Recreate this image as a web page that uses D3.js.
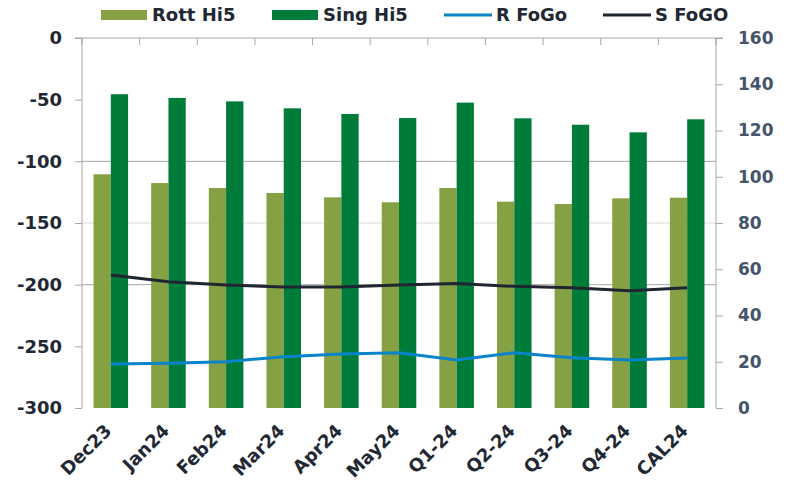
<!DOCTYPE html>
<html>
<head>
<meta charset="utf-8">
<script src="https://cdn.jsdelivr.net/npm/d3@7"></script>
<style>
  body { margin: 0; background: #fff; }
  svg text { font-family: "DejaVu Sans", Verdana, sans-serif; font-weight: bold; }
</style>
</head>
<body>
<svg id="chart"></svg>
<script>
var categories = ["Dec23", "Jan24", "Feb24", "Mar24", "Apr24", "May24", "Q1-24", "Q2-24", "Q3-24", "Q4-24", "CAL24"];
var rottHi5 = [-110.5, -117.6, -121.6, -125.7, -129.2, -133.2, -121.6, -132.7, -134.6, -130, -129.5];
var singHi5 = [-45.6, -48.6, -51.4, -57, -61.6, -64.9, -52.4, -65.1, -70.3, -76.5, -65.9];
var rFoGo = [19, 19.3, 20, 22.2, 23.4, 23.9, 20.8, 23.9, 21.7, 20.8, 21.6];
var sFoGO = [57.5, 54.6, 53.2, 52.3, 52.3, 53.2, 53.8, 52.6, 52, 50.7, 52];
var leftTicks = [0, -50, -100, -150, -200, -250, -300];
var rightTicks = [0, 20, 40, 60, 80, 100, 120, 140, 160];
var gridTicks = [-100, -150, -200];

var width = 786, height = 484;
var margin = { top: 38, right: 70, bottom: 76, left: 82 };
var w = width - margin.left - margin.right,
    h = height - margin.top - margin.bottom;

var svg = d3.select("#chart")
    .attr("width", width)
    .attr("height", height);

var g = svg.append("g")
    .attr("transform", "translate(" + margin.left + "," + margin.top + ")");

var x = d3.scaleBand()
    .domain(categories)
    .range([0, w]);

var xSub = d3.scaleBand()
    .domain(["rott", "sing"])
    .range([x.bandwidth() * 0.2, x.bandwidth() * 0.8]);

var yLeft = d3.scaleLinear()
    .domain([-300, 0])
    .range([h, 0]);

var yRight = d3.scaleLinear()
    .domain([0, 160])
    .range([h, 0]);

// gridlines
g.selectAll(".grid")
    .data(gridTicks)
    .enter().append("line")
    .attr("x1", 0)
    .attr("x2", w)
    .attr("y1", function(d) { return yLeft(d); })
    .attr("y2", function(d) { return yLeft(d); })
    .attr("stroke", function(d) { return d == -150 ? "#d9d9d9" : "#a6a6a6"; })
    .attr("stroke-width", 1);

// bars rise from the -300 baseline
g.selectAll(".rott")
    .data(rottHi5)
    .enter().append("rect")
    .attr("x", function(d, i) { return x(categories[i]) + xSub("rott"); })
    .attr("y", function(d) { return yLeft(d); })
    .attr("width", xSub.bandwidth())
    .attr("height", function(d) { return yLeft(-300) - yLeft(d); })
    .attr("fill", "#86a143");

g.selectAll(".sing")
    .data(singHi5)
    .enter().append("rect")
    .attr("x", function(d, i) { return x(categories[i]) + xSub("sing"); })
    .attr("y", function(d) { return yLeft(d); })
    .attr("width", xSub.bandwidth())
    .attr("height", function(d) { return yLeft(-300) - yLeft(d); })
    .attr("fill", "#007c3a");

var line = d3.line()
    .x(function(d, i) { return x(categories[i]) + x.bandwidth() / 2; })
    .y(function(d) { return yRight(d); });

g.append("path")
    .datum(rFoGo)
    .attr("d", line)
    .attr("fill", "none")
    .attr("stroke", "#0a84c8")
    .attr("stroke-width", 3);

g.append("path")
    .datum(sFoGO)
    .attr("d", line)
    .attr("fill", "none")
    .attr("stroke", "#1f2631")
    .attr("stroke-width", 3);

// axes
var topAxis = d3.axisBottom(x).tickSize(7).tickFormat("");
var gTop = g.append("g").call(topAxis);
gTop.select(".domain").remove();
gTop.selectAll(".tick line")
    .attr("transform", "translate(" + (-x.bandwidth() / 2) + ",0)")
    .attr("stroke", "#a6a6a6");
gTop.append("line")
    .attr("x1", -7).attr("x2", w + 7)
    .attr("stroke", "#a6a6a6");
gTop.append("line")
    .attr("x1", w).attr("x2", w).attr("y2", 7)
    .attr("stroke", "#a6a6a6");

var leftAxis = d3.axisLeft(yLeft)
    .tickValues(leftTicks)
    .tickSize(7)
    .tickPadding(13)
    .tickFormat(function(d) { return String(d); });
var gLeft = g.append("g").call(leftAxis);
gLeft.attr("font-family", null).attr("font-size", null);
gLeft.select(".domain").attr("stroke", "#a6a6a6").attr("d", "M0,0V" + h);
gLeft.selectAll(".tick line").attr("stroke", "#a6a6a6");
gLeft.selectAll(".tick text")
    .attr("fill", "#212833")
    .style("font-size", "18px");

var rightAxis = d3.axisRight(yRight).tickValues(rightTicks).tickSize(7).tickPadding(15);
var gRight = g.append("g")
    .attr("transform", "translate(" + w + ",0)")
    .call(rightAxis);
gRight.attr("font-family", null).attr("font-size", null);
gRight.select(".domain").attr("stroke", "#a6a6a6").attr("d", "M0,0V" + h);
gRight.selectAll(".tick line").attr("stroke", "#a6a6a6");
gRight.selectAll(".tick text")
    .attr("fill", "#44546a")
    .style("font-size", "17px");

// x labels
g.selectAll(".xlabel")
    .data(categories)
    .enter().append("text")
    .attr("transform", function(d) {
        return "translate(" + (x(d) + x.bandwidth() / 2 - 7) + "," + (h + 15) + ") rotate(-45)";
    })
    .attr("text-anchor", "end")
    .attr("dy", "0.7em")
    .attr("fill", "#212833")
    .style("font-size", "18px")
    .text(function(d) { return d; });

// legend
var legendItems = [
    { name: "Rott Hi5", type: "bar", color: "#86a143", x: 101 },
    { name: "Sing Hi5", type: "bar", color: "#007c3a", x: 272 },
    { name: "R FoGo", type: "line", color: "#0a84c8", x: 444 },
    { name: "S FoGO", type: "line", color: "#1f2631", x: 603 }
];

var legend = svg.selectAll(".legend")
    .data(legendItems)
    .enter().append("g")
    .attr("transform", function(d) { return "translate(" + d.x + ",15)"; });

legend.append("rect")
    .attr("y", function(d) { return d.type == "bar" ? -5 : -1.5; })
    .attr("width", function(d) { return d.type == "bar" ? 46 : 48; })
    .attr("height", function(d) { return d.type == "bar" ? 10 : 3; })
    .attr("fill", function(d) { return d.color; });

legend.append("text")
    .attr("x", function(d) { return d.type == "bar" ? 51 : 52; })
    .attr("dy", "0.36em")
    .attr("fill", "#212833")
    .style("font-size", "18px")
    .text(function(d) { return d.name; });
</script>
</body>
</html>
